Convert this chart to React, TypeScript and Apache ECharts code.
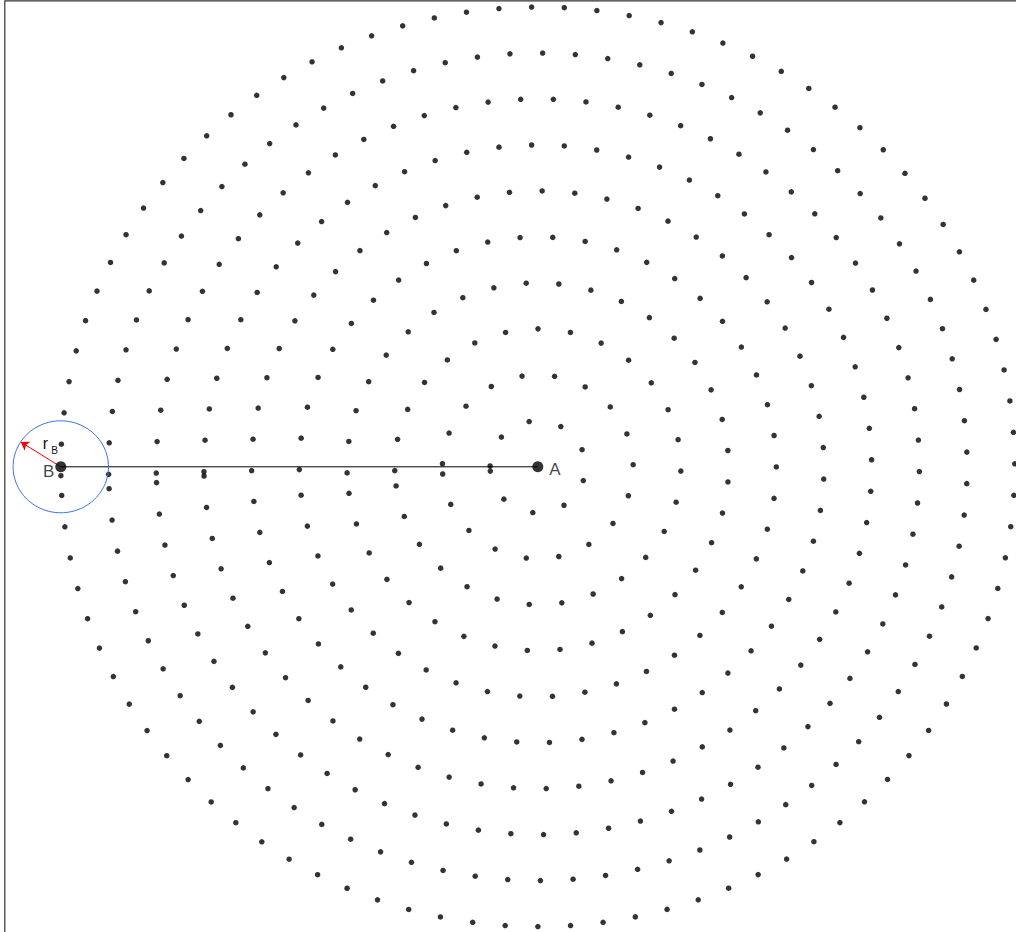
import React, { useEffect, useRef } from "react";
import * as echarts from "echarts";

// Concentric rings of sample points around A (data units: ring spacing = 1)
const ringRadius = [1, 2, 3, 4, 5, 6, 7, 8, 9, 10];
const ringDotCount = [10, 19, 28, 37, 46, 55, 65, 74, 83, 92];
const ringStepDeg = [39.29, 19.645, 13.097, 9.823, 7.858, 6.548, 5.613, 4.911, 4.366, 3.929];
const ringStartDeg = [179.0, 178.1, 181.6, 181.9, 180.7, 180.8, 180.87, 180.97, 181.04, 181.11];

const pointA = [0, 0];
const pointB = [-10, 0];
const radiusB = 1;
const arrowTip = [-10.84, 0.54];

const labelA = "A";
const labelB = "B";
const labelR = "r";
const labelRSub = "B";

const FONT = "'Liberation Sans', Arial, sans-serif";

function buildDots(): number[][] {
  const pts: number[][] = [];
  ringRadius.forEach((r, k) => {
    for (let i = 0; i < ringDotCount[k]; i++) {
      const t = ((ringStartDeg[k] - i * ringStepDeg[k]) * Math.PI) / 180;
      pts.push([r * Math.cos(t), r * Math.sin(t)]);
    }
  });
  return pts;
}

export default function App() {
  const ref = useRef<HTMLDivElement>(null);
  useEffect(() => {
    if (!ref.current) return;
    const chart = echarts.init(ref.current, undefined, { renderer: "svg" });
    const dots = buildDots();
    const option: any = {
      animation: false,
      backgroundColor: "#ffffff",
      grid: {
        show: true,
        left: 4.8,
        top: 0.8,
        width: 1066,
        height: 932,
        borderColor: "#333333",
        borderWidth: 1.2,
        backgroundColor: "transparent",
      },
      xAxis: {
        type: "value",
        min: -11.174,
        max: 11.174,
        axisLine: { show: false },
        axisTick: { show: false },
        axisLabel: { show: false },
        splitLine: { show: false },
      },
      yAxis: {
        type: "value",
        min: -10.135,
        max: 10.135,
        axisLine: { show: false },
        axisTick: { show: false },
        axisLabel: { show: false },
        splitLine: { show: false },
      },
      series: [
        {
          type: "scatter",
          data: dots,
          symbol: "circle",
          symbolSize: 5.5,
          itemStyle: { color: "#000000" },
          z: 3,
        },
        {
          type: "line",
          data: [pointB, pointA],
          symbol: "none",
          lineStyle: { color: "#000000", width: 1 },
          z: 2,
        },
        {
          type: "custom",
          data: [0],
          renderItem: (_params: any, api: any) => {
            const pts: number[][] = [];
            for (let d = 0; d <= 360; d += 3) {
              const t = (d * Math.PI) / 180;
              pts.push(api.coord([pointB[0] + radiusB * Math.cos(t), pointB[1] + radiusB * Math.sin(t)]));
            }
            return {
              type: "polyline",
              shape: { points: pts },
              style: { stroke: "#3d6fe8", lineWidth: 1, fill: null },
            };
          },
          z: 4,
        },
        {
          type: "lines",
          coordinateSystem: "cartesian2d",
          data: [{ coords: [pointB, arrowTip] }],
          symbol: ["none", "arrow"],
          symbolSize: 8,
          lineStyle: { color: "#ff0000", width: 1, opacity: 1 },
          z: 5,
        },
        {
          type: "scatter",
          data: [
            { value: pointA, name: labelA, label: { position: "right", distance: 6, offset: [0, 3] } },
            { value: pointB, name: labelB, label: { position: "left", distance: 1, offset: [0, 5] } },
          ],
          symbol: "circle",
          symbolSize: 11,
          itemStyle: { color: "#000000" },
          label: {
            show: true,
            formatter: (p: any) => p.name,
            fontSize: 17,
            fontFamily: FONT,
            color: "#111111",
          },
          z: 6,
        },
        {
          type: "custom",
          data: [0],
          renderItem: (_params: any, api: any) => {
            const c = api.coord(pointB);
            return {
              type: "group",
              children: [
                {
                  type: "text",
                  x: c[0] - 18,
                  y: c[1] - 23.5,
                  style: {
                    text: labelR,
                    fontSize: 16,
                    fontFamily: FONT,
                    fill: "#111111",
                    align: "left",
                    verticalAlign: "middle",
                  },
                },
                {
                  type: "text",
                  x: c[0] - 9.5,
                  y: c[1] - 16.8,
                  style: {
                    text: labelRSub,
                    fontSize: 10,
                    fontFamily: FONT,
                    fill: "#111111",
                    align: "left",
                    verticalAlign: "middle",
                  },
                },
              ],
            };
          },
          z: 7,
        },
      ],
    };
    chart.setOption(option);
    return () => chart.dispose();
  }, []);
  return (
    <div
      ref={ref}
      style={{ position: "fixed", left: 0, top: 0, width: 1090, height: 960, background: "#fff" }}
    />
  );
}
